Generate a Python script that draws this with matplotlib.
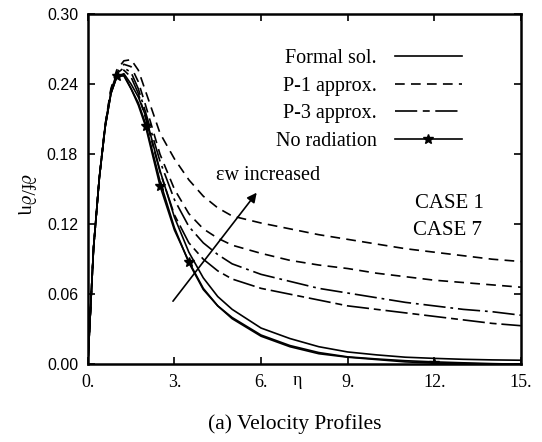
import matplotlib
matplotlib.use('Agg')
import matplotlib.pyplot as plt
from matplotlib.lines import Line2D

plt.rcParams['lines.scale_dashes'] = False

# similarity variable
eta = [0, 0.2, 0.4, 0.6, 0.8, 1.0, 1.25, 1.5, 1.75, 2.0, 2.5, 3.0, 3.5, 4.0,
       4.5, 5.0, 6.0, 7.0, 8.0, 9.0, 10., 11., 12., 13., 14., 15.]

# formal solution, CASE 1 and CASE 7
formal_1 = [0, .100, .160, .203, .232, .246, .248, .236, .224, .206, .157, .117, .087, .064,
            .050, .040, .025, .016, .010, .0063, .0045, .003, .002, .0012, .0005, 0]
formal_7 = [0, .100, .160, .203, .232, .246, .249, .240, .229, .213, .166, .126, .096, .074,
            .058, .047, .031, .022, .015, .0105, .008, .006, .005, .0042, .0037, .0034]
# no radiation
no_rad = [0, .100, .160, .203, .232, .247, .247, .236, .222, .204, .153, .115, .088, .065,
          .050, .039, .024, .015, .009, .006, .004, .002, .001, .0005, .0002, 0]
no_rad_marks = [5, 9, 10, 12, 22]
# P-1 approx.
p1_a = [0, .100, .160, .205, .236, .252, .260, .261, .252, .234, .198, .176, .158, .144,
        .134, .127, .121, .116, .111, .107, .103, .099, .096, .093, .090, .088]
p1_b = [0, .100, .160, .205, .235, .250, .257, .255, .242, .222, .180, .150, .129, .116,
        .108, .102, .095, .089, .085, .082, .078, .075, .072, .070, .068, .066]
# P-3 approx.
p3_a = [0, .100, .160, .204, .234, .249, .254, .250, .236, .216, .174, .141, .118, .104,
        .094, .086, .077, .071, .065, .061, .057, .053, .050, .047, .045, .042]
p3_b = [0, .100, .160, .204, .233, .248, .252, .246, .232, .211, .165, .128, .104, .090,
        .080, .073, .065, .060, .055, .050, .047, .044, .041, .038, .035, .033]

xticks = [0, 3, 6, 9, 12, 15]
xticklabels = ['0.', '3.', '6.', '9.', '12.', '15.']
yticks = [0.0, 0.06, 0.12, 0.18, 0.24, 0.30]
yticklabels = ['0.00', '0.06', '0.12', '0.18', '0.24', '0.30']

serif = 'Liberation Serif'
sans = 'Liberation Sans'

fig = plt.figure(figsize=(5.42, 4.42), dpi=100)
ax = fig.add_axes([0.162, 0.176, 0.799, 0.792])

dash_p1 = (0, (7, 4.5))
dash_p3a = (0, (16, 3.5, 2, 3.5))
dash_p3b = (0, (16, 3.5, 5, 3.5))

ax.plot(eta, formal_1, color='black', lw=1.2)
ax.plot(eta, formal_7, color='black', lw=1.2)
ax.plot(eta, no_rad, color='black', lw=1.2, marker='*', markersize=7,
        markevery=no_rad_marks)
ax.plot(eta, p1_a, color='black', lw=1.2, linestyle=dash_p1)
ax.plot(eta, p1_b, color='black', lw=1.2, linestyle=dash_p1)
ax.plot(eta, p3_a, color='black', lw=1.2, linestyle=dash_p3a)
ax.plot(eta, p3_b, color='black', lw=1.2, linestyle=dash_p3b)

ax.set_xlim(0, 15)
ax.set_ylim(0, 0.30)
ax.set_xticks(xticks)
ax.set_xticklabels(xticklabels, fontfamily=serif, fontsize=13)
ax.set_yticks(yticks)
ax.set_yticklabels(yticklabels, fontfamily=sans, fontsize=11.5)
ax.tick_params(direction='in', length=5, width=1.2, top=True, right=True, pad=7)
for s in ax.spines.values():
    s.set_linewidth(1.8)

# legend: text first, line sample after
handles = [
    Line2D([], [], color='black', lw=1.2),
    Line2D([], [], color='black', lw=1.2, linestyle=dash_p1),
    Line2D([], [], color='black', lw=1.2, linestyle=(0, (16, 4, 5, 4))),
    Line2D([], [], color='black', lw=1.2, marker='*', markersize=7),
]
labels = ['Formal sol.', 'P-1 approx.', 'P-3 approx.', 'No radiation']
ax.legend(handles, labels, loc='upper left', bbox_to_anchor=(0.435, 0.90),
          frameon=False, markerfirst=False, handlelength=3.3, handletextpad=0.9,
          labelspacing=0.42, borderpad=0, borderaxespad=0,
          prop={'family': serif, 'size': 14.5})

# arrow showing increasing wall emissivity
ax.annotate('', xy=(5.85, 0.147), xytext=(2.95, 0.054),
            arrowprops=dict(arrowstyle='-|>', color='black', lw=1.2,
                            mutation_scale=14, shrinkA=0, shrinkB=0))
ax.text(4.45, 0.162, 'εw increased', fontfamily=serif, fontsize=14.5, va='center')
ax.text(11.35, 0.138, 'CASE 1', fontfamily=serif, fontsize=15, va='center')
ax.text(11.25, 0.115, 'CASE 7', fontfamily=serif, fontsize=15, va='center')

# axis titles placed like the original
ax.text(7.25, -0.046, 'η', fontfamily=serif, fontsize=13, ha='center', va='center',
        transform=ax.get_xaxis_transform())
fig.text(25 / 542, 1 - 195 / 442, '∂f/∂η', rotation=-90, fontfamily=serif,
         fontsize=14, ha='center', va='center')
fig.text(295 / 542, 1 - 424 / 442, '(a) Velocity Profiles', fontfamily=serif,
         fontsize=15.5, ha='center', va='center')

fig.savefig('out.png', dpi=100)
